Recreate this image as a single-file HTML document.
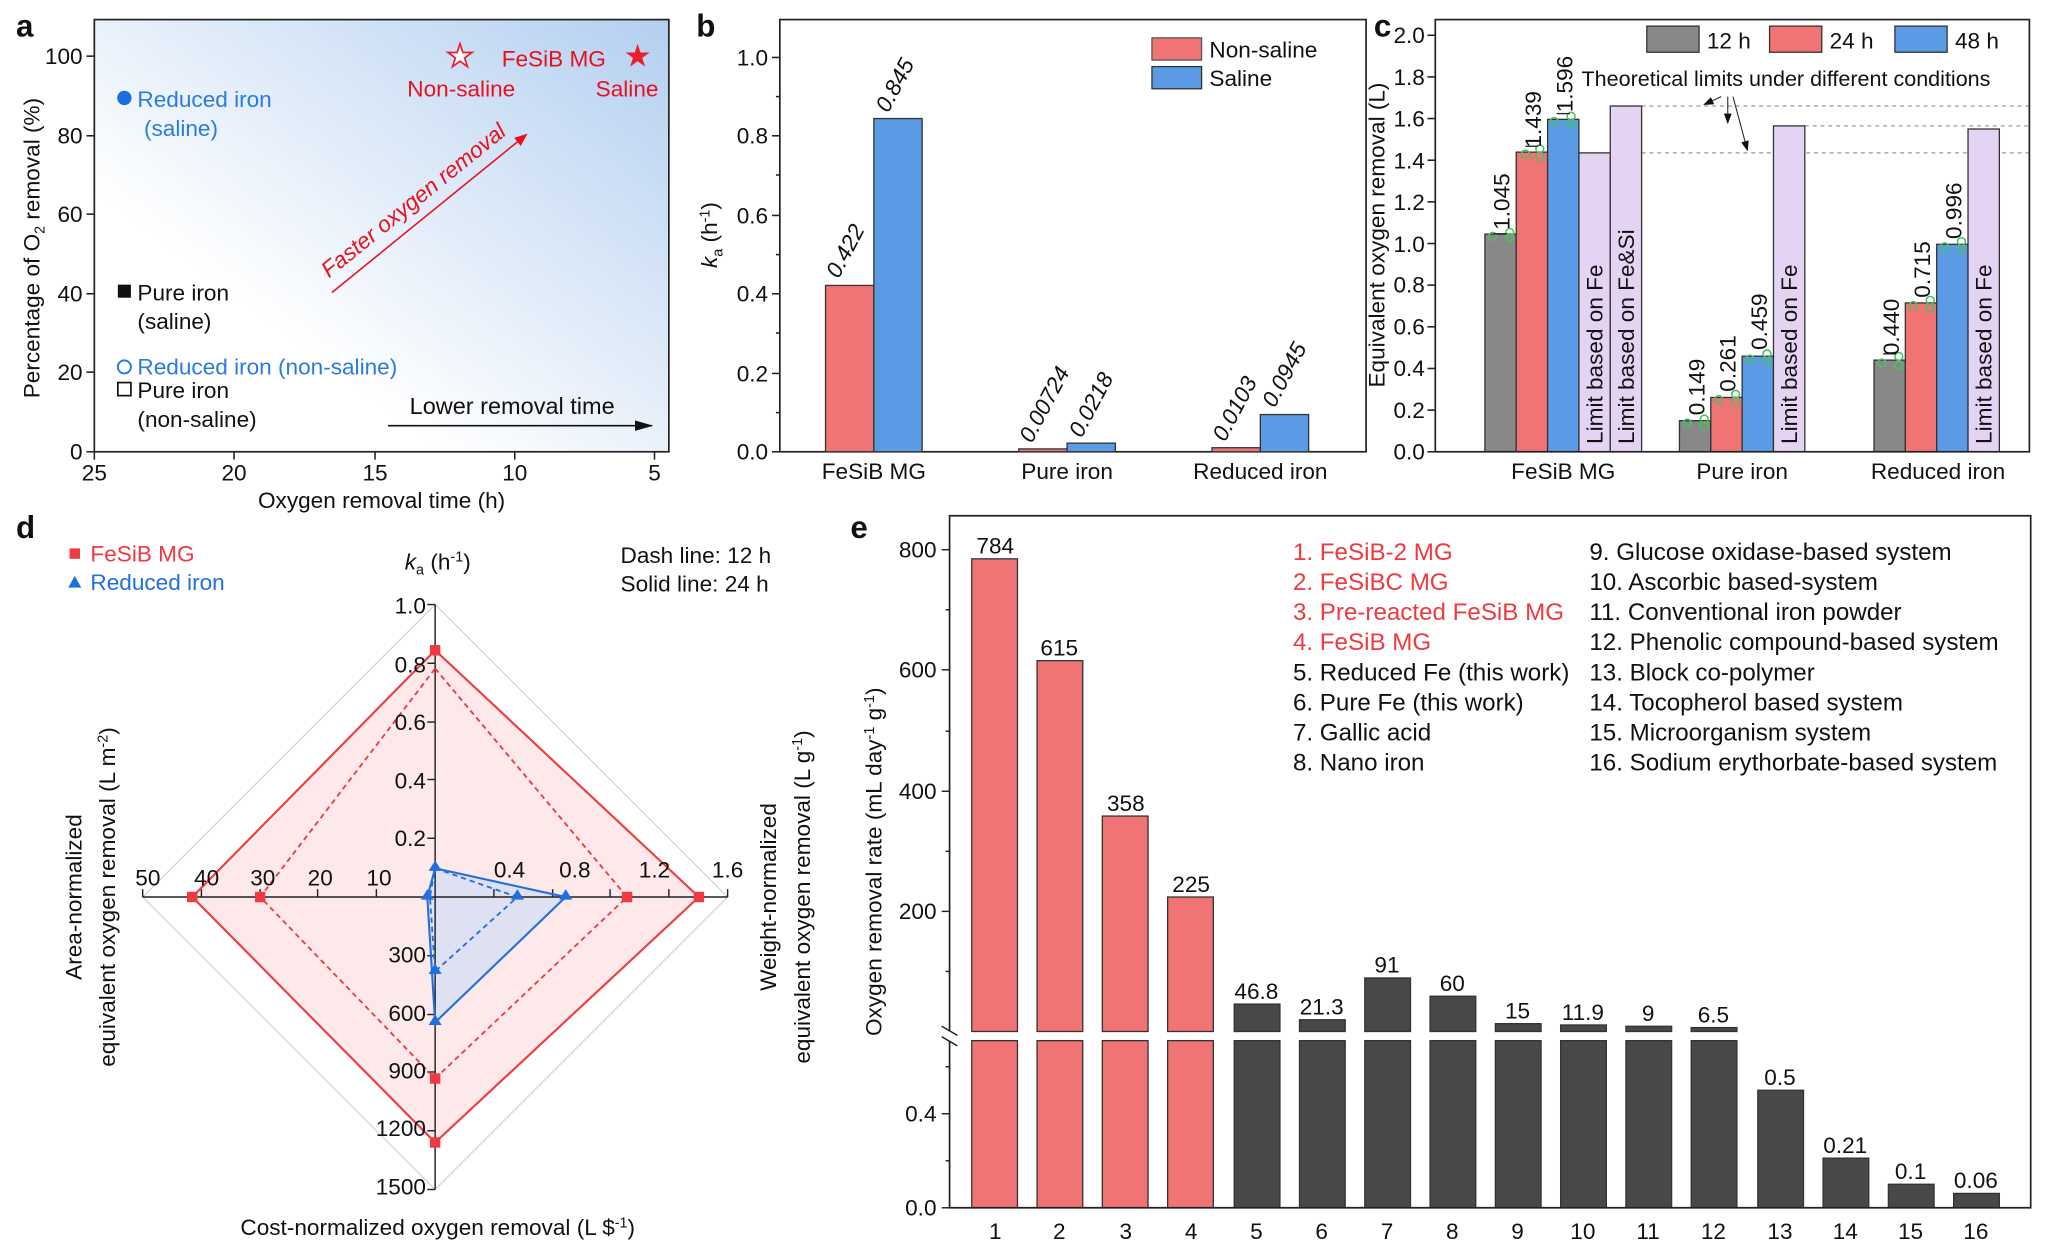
<!DOCTYPE html>
<html><head><meta charset="utf-8"><style>
html,body{margin:0;padding:0;background:#fff}
svg{display:block}
text{font-family:"Liberation Sans",Arial,sans-serif;font-size:17.3px;fill:#111}
.b{font-weight:bold;font-size:24px}
.lg{font-size:18.5px}
</style></head><body>
<svg width="2048" height="1260" viewBox="0 0 1568 965" xmlns="http://www.w3.org/2000/svg">
<defs>
<linearGradient id="ga" x1="0" y1="1" x2="1" y2="0">
<stop offset="0.3" stop-color="#ffffff"/><stop offset="1" stop-color="#b3cff0"/>
</linearGradient>
<marker id="ar" markerWidth="10" markerHeight="8" refX="9" refY="4" orient="auto" markerUnits="userSpaceOnUse"><path d="M0,0 L10,4 L0,8z" fill="#e8101e"/></marker>
<marker id="ak" markerWidth="14" markerHeight="8" refX="13" refY="4" orient="auto" markerUnits="userSpaceOnUse"><path d="M0,0 L14,4 L0,8z" fill="#111"/></marker>
<marker id="ak2" markerWidth="8" markerHeight="6" refX="7" refY="3" orient="auto" markerUnits="userSpaceOnUse"><path d="M0,0 L8,3 L0,6z" fill="#111"/></marker>
</defs>

<!-- ===== Panel a ===== -->
<text x="12" y="28" class="b">a</text>
<rect x="72" y="15" width="440" height="331" fill="url(#ga)" stroke="#222" stroke-width="1.3"/>
<g stroke="#222" stroke-width="1.2">
<line x1="72" y1="346" x2="72" y2="352"/><line x1="179" y1="346" x2="179" y2="352"/><line x1="287" y1="346" x2="287" y2="352"/><line x1="394" y1="346" x2="394" y2="352"/><line x1="501" y1="346" x2="501" y2="352"/>
<line x1="66" y1="346" x2="72" y2="346"/><line x1="66" y1="285" x2="72" y2="285"/><line x1="66" y1="225" x2="72" y2="225"/><line x1="66" y1="164" x2="72" y2="164"/><line x1="66" y1="104" x2="72" y2="104"/><line x1="66" y1="43" x2="72" y2="43"/>
</g>
<g text-anchor="middle"><text x="72" y="368">25</text><text x="179" y="368">20</text><text x="287" y="368">15</text><text x="394" y="368">10</text><text x="501" y="368">5</text>
<text x="292" y="389">Oxygen removal time (h)</text></g>
<g text-anchor="end"><text x="63" y="352">0</text><text x="63" y="291">20</text><text x="63" y="231">40</text><text x="63" y="170">60</text><text x="63" y="110">80</text><text x="63" y="49">100</text></g>
<text transform="translate(30,190) rotate(-90)" text-anchor="middle">Percentage of O<tspan font-size="11" dy="4">2</tspan><tspan dy="-4"> removal (%)</tspan></text>
<circle cx="95" cy="75" r="5.5" fill="#1a6fe0"/>
<text x="105" y="82" style="fill:#2a7be0">Reduced iron</text><text x="110" y="104" style="fill:#2a7be0">(saline)</text>
<rect x="90" y="218" width="10" height="10" fill="#111"/>
<text x="105" y="230">Pure iron</text><text x="105" y="252">(saline)</text>
<circle cx="95" cy="281" r="5" fill="none" stroke="#2a7be0" stroke-width="1.5"/>
<text x="105" y="287" style="fill:#2a7be0">Reduced iron (non-saline)</text>
<rect x="90" y="293" width="10" height="10" fill="none" stroke="#111" stroke-width="1.3"/>
<text x="105" y="305">Pure iron</text><text x="105" y="327">(non-saline)</text>
<text x="352" y="51" text-anchor="middle" style="fill:#fff;stroke:#e8202e;stroke-width:1.3;font-size:24px">★</text>
<text x="488" y="51" text-anchor="middle" style="fill:#e8202e;font-size:24px">★</text>
<text x="384" y="51" style="fill:#e8101e">FeSiB MG</text>
<text x="353" y="74" text-anchor="middle" style="fill:#e8101e">Non-saline</text>
<text x="480" y="74" text-anchor="middle" style="fill:#e8101e">Saline</text>
<line x1="254" y1="224" x2="403" y2="103" stroke="#e8101e" stroke-width="1.2" marker-end="url(#ar)"/>
<text transform="translate(320,158) rotate(-39)" text-anchor="middle" style="fill:#e8101e;font-style:italic">Faster oxygen removal</text>
<line x1="297" y1="326" x2="499" y2="326" stroke="#111" stroke-width="1.2" marker-end="url(#ak)"/>
<text x="392" y="317" text-anchor="middle" style="font-size:18px">Lower removal time</text>

<!-- ===== Panel b ===== -->
<text x="533" y="28" class="b">b</text>
<rect x="597" y="15" width="449" height="331" fill="none" stroke="#222" stroke-width="1.3"/>
<g stroke="#222" stroke-width="1.2">
<line x1="591" y1="346" x2="597" y2="346"/><line x1="591" y1="286" x2="597" y2="286"/><line x1="591" y1="225" x2="597" y2="225"/><line x1="591" y1="165" x2="597" y2="165"/><line x1="591" y1="104" x2="597" y2="104"/><line x1="591" y1="44" x2="597" y2="44"/>
<line x1="594" y1="316" x2="597" y2="316"/><line x1="594" y1="255" x2="597" y2="255"/><line x1="594" y1="195" x2="597" y2="195"/><line x1="594" y1="134" x2="597" y2="134"/><line x1="594" y1="74" x2="597" y2="74"/>
</g>
<g text-anchor="end"><text x="588" y="352">0.0</text><text x="588" y="292">0.2</text><text x="588" y="231">0.4</text><text x="588" y="171">0.6</text><text x="588" y="110">0.8</text><text x="588" y="50">1.0</text></g>
<text transform="translate(549,180) rotate(-90)" text-anchor="middle"><tspan font-style="italic">k</tspan><tspan font-size="11" dy="4">a</tspan><tspan dy="-4"> (h</tspan><tspan font-size="11" dy="-6">-1</tspan><tspan dy="6">)</tspan></text>
<g stroke="#333" stroke-width="1">
<rect x="632" y="218.6" width="37" height="127.4" fill="#f07474"/>
<rect x="669" y="90.8" width="37" height="255.2" fill="#5b9be6"/>
<rect x="780" y="343.8" width="37" height="2.2" fill="#f07474"/>
<rect x="817" y="339.4" width="37" height="6.6" fill="#5b9be6"/>
<rect x="928" y="342.9" width="37" height="3.1" fill="#f07474"/>
<rect x="965" y="317.5" width="37" height="28.5" fill="#5b9be6"/>
</g>
<g font-style="italic">
<text transform="translate(642,214) rotate(-62)">0.422</text>
<text transform="translate(680,87) rotate(-62)">0.845</text>
<text transform="translate(790,340) rotate(-62)">0.00724</text>
<text transform="translate(828,336) rotate(-62)">0.0218</text>
<text transform="translate(938,339) rotate(-62)">0.0103</text>
<text transform="translate(976,313) rotate(-62)">0.0945</text>
</g>
<g text-anchor="middle"><text x="669" y="367">FeSiB MG</text><text x="817" y="367">Pure iron</text><text x="965" y="367">Reduced iron</text></g>
<rect x="882" y="29" width="38" height="17" fill="#f07474" stroke="#555"/>
<rect x="882" y="51" width="38" height="17" fill="#5b9be6" stroke="#333"/>
<text x="926" y="44">Non-saline</text><text x="926" y="66">Saline</text>

<!-- ===== Panel c ===== -->
<text x="1052" y="28" class="b">c</text>
<g stroke="#999" stroke-width="1" stroke-dasharray="3,3">
<line x1="1257" y1="81.2" x2="1554" y2="81.2"/>
<line x1="1382" y1="96.4" x2="1554" y2="96.4"/>
<line x1="1233" y1="117.1" x2="1554" y2="117.1"/>
</g>
<g stroke="#333" stroke-width="1">
<rect x="1137" y="179.3" width="24" height="166.7" fill="#888"/>
<rect x="1161" y="116.5" width="24" height="229.5" fill="#f07474"/>
<rect x="1185" y="91.4" width="24" height="254.6" fill="#5b9be6"/>
<rect x="1209" y="117.1" width="24" height="228.9" fill="#e5d3f3"/>
<rect x="1233" y="81.2" width="24" height="264.8" fill="#e5d3f3"/>
<rect x="1286" y="322.2" width="24" height="23.8" fill="#888"/>
<rect x="1310" y="304.4" width="24" height="41.6" fill="#f07474"/>
<rect x="1334" y="272.8" width="24" height="73.2" fill="#5b9be6"/>
<rect x="1358" y="96.4" width="24" height="249.6" fill="#e5d3f3"/>
<rect x="1435" y="275.8" width="24" height="70.2" fill="#888"/>
<rect x="1459" y="232" width="24" height="114" fill="#f07474"/>
<rect x="1483" y="187.1" width="24" height="158.9" fill="#5b9be6"/>
<rect x="1507" y="98.8" width="24" height="247.2" fill="#e5d3f3"/>
</g>
<g fill="none" stroke="#4cc060" stroke-width="1.2">
<circle cx="1143" cy="181" r="3"/><circle cx="1156" cy="178" r="3"/><circle cx="1156" cy="182" r="3"/>
<circle cx="1168" cy="118" r="3"/><circle cx="1179" cy="114" r="3"/><circle cx="1179" cy="120" r="3"/>
<circle cx="1190" cy="93" r="3"/><circle cx="1203" cy="89" r="3"/><circle cx="1203" cy="95" r="3"/>
<circle cx="1292" cy="324" r="3"/><circle cx="1305" cy="321" r="3"/><circle cx="1305" cy="326" r="3"/>
<circle cx="1316" cy="306" r="3"/><circle cx="1329" cy="302" r="3"/><circle cx="1329" cy="307" r="3"/>
<circle cx="1340" cy="275" r="3"/><circle cx="1353" cy="271" r="3"/><circle cx="1353" cy="277" r="3"/>
<circle cx="1441" cy="278" r="3"/><circle cx="1454" cy="273" r="3"/><circle cx="1454" cy="280" r="3"/>
<circle cx="1465" cy="234" r="3"/><circle cx="1478" cy="230" r="3"/><circle cx="1478" cy="236" r="3"/>
<circle cx="1489" cy="189" r="3"/><circle cx="1502" cy="185" r="3"/><circle cx="1502" cy="191" r="3"/>
</g>
<g stroke="#222" stroke-width="1"><line x1="1144" y1="179" x2="1154" y2="179"/><line x1="1168" y1="112" x2="1178" y2="112"/><line x1="1192" y1="87" x2="1202" y2="87"/><line x1="1442" y1="271" x2="1452" y2="271"/></g>
<g>
<text transform="translate(1156,176) rotate(-90)">1.045</text>
<text transform="translate(1180,113) rotate(-90)">1.439</text>
<text transform="translate(1204,86) rotate(-90)">1.596</text>
<text transform="translate(1305,318) rotate(-90)">0.149</text>
<text transform="translate(1329,300) rotate(-90)">0.261</text>
<text transform="translate(1353,268) rotate(-90)">0.459</text>
<text transform="translate(1454,272) rotate(-90)">0.440</text>
<text transform="translate(1478,228) rotate(-90)">0.715</text>
<text transform="translate(1502,183) rotate(-90)">0.996</text>
<text transform="translate(1227,340) rotate(-90)">Limit based on Fe</text>
<text transform="translate(1251,340) rotate(-90)">Limit based on Fe&amp;Si</text>
<text transform="translate(1376,340) rotate(-90)">Limit based on Fe</text>
<text transform="translate(1525,340) rotate(-90)">Limit based on Fe</text>
</g>
<rect x="1099" y="15" width="455" height="331" fill="none" stroke="#222" stroke-width="1.3"/>
<g stroke="#222" stroke-width="1.2">
<line x1="1093" y1="346" x2="1099" y2="346"/><line x1="1093" y1="314.1" x2="1099" y2="314.1"/><line x1="1093" y1="282.2" x2="1099" y2="282.2"/><line x1="1093" y1="250.3" x2="1099" y2="250.3"/><line x1="1093" y1="218.4" x2="1099" y2="218.4"/><line x1="1093" y1="186.5" x2="1099" y2="186.5"/><line x1="1093" y1="154.6" x2="1099" y2="154.6"/><line x1="1093" y1="122.7" x2="1099" y2="122.7"/><line x1="1093" y1="90.8" x2="1099" y2="90.8"/><line x1="1093" y1="58.9" x2="1099" y2="58.9"/><line x1="1093" y1="27" x2="1099" y2="27"/>
</g>
<g text-anchor="end">
<text x="1091" y="352">0.0</text><text x="1091" y="320">0.2</text><text x="1091" y="288">0.4</text><text x="1091" y="256">0.6</text><text x="1091" y="224">0.8</text><text x="1091" y="193">1.0</text><text x="1091" y="161">1.2</text><text x="1091" y="129">1.4</text><text x="1091" y="97">1.6</text><text x="1091" y="65">1.8</text><text x="1091" y="33">2.0</text></g>
<text transform="translate(1060,180) rotate(-90)" text-anchor="middle">Equivalent oxygen removal (L)</text>
<g text-anchor="middle"><text x="1197" y="367">FeSiB MG</text><text x="1334" y="367">Pure iron</text><text x="1484" y="367">Reduced iron</text></g>
<rect x="1261" y="20" width="40" height="20" fill="#888" stroke="#333"/>
<rect x="1355" y="20" width="40" height="20" fill="#f07474" stroke="#333"/>
<rect x="1451" y="20" width="40" height="20" fill="#5b9be6" stroke="#333"/>
<text x="1307" y="37">12 h</text><text x="1401" y="37">24 h</text><text x="1497" y="37">48 h</text>
<text x="1211" y="66" style="font-size:16.5px">Theoretical limits under different conditions</text>
<g stroke="#222" stroke-width="0.8">
<line x1="1318" y1="74" x2="1305" y2="80" marker-end="url(#ak2)"/>
<line x1="1323" y1="74" x2="1323" y2="94" marker-end="url(#ak2)"/>
<line x1="1327" y1="74" x2="1338" y2="115" marker-end="url(#ak2)"/>
</g>

<!-- ===== Panel d ===== -->
<text x="12" y="412" class="b">d</text>
<g fill="none" stroke="#ccc" stroke-width="0.8">
<polygon points="333,642 378,687 333,732 288,687"/>
<polygon points="333,597 423,687 333,777 243,687"/>
<polygon points="333,553 467,687 333,821 199,687"/>
<polygon points="333,508 512,687 333,866 154,687"/>
<polygon points="333,463 557,687 333,911 109,687"/>
</g>
<polygon points="333,498 535,687 333,875 147,687" fill="#fde9ea" stroke="none"/>
<polygon points="333,665 433,687 333,783 327,687" fill="#dfe0f2" stroke="none"/>
<g stroke="#222" stroke-width="1.1">
<line x1="333" y1="463" x2="333" y2="911"/><line x1="109" y1="687" x2="557" y2="687"/>
<line x1="327" y1="463" x2="333" y2="463"/><line x1="327" y1="508" x2="333" y2="508"/><line x1="327" y1="553" x2="333" y2="553"/><line x1="327" y1="597" x2="333" y2="597"/><line x1="327" y1="642" x2="333" y2="642"/>
<line x1="327" y1="732" x2="333" y2="732"/><line x1="327" y1="777" x2="333" y2="777"/><line x1="327" y1="821" x2="333" y2="821"/><line x1="327" y1="866" x2="333" y2="866"/><line x1="327" y1="911" x2="333" y2="911"/>
<line x1="109" y1="681" x2="109" y2="687"/><line x1="154" y1="681" x2="154" y2="687"/><line x1="199" y1="681" x2="199" y2="687"/><line x1="243" y1="681" x2="243" y2="687"/><line x1="288" y1="681" x2="288" y2="687"/>
<line x1="378" y1="681" x2="378" y2="687"/><line x1="423" y1="681" x2="423" y2="687"/><line x1="467" y1="681" x2="467" y2="687"/><line x1="512" y1="681" x2="512" y2="687"/><line x1="557" y1="681" x2="557" y2="687"/>
</g>
<polygon points="333,498 535,687 333,875 147,687" fill="none" stroke="#ee3a40" stroke-width="1.6"/>
<polygon points="333,512 480,687 333,826 199,687" fill="none" stroke="#ee3a40" stroke-width="1.4" stroke-dasharray="4,3"/>
<polygon points="333,665 433,687 333,783 327,687" fill="none" stroke="#1f6fdc" stroke-width="1.6"/>
<polygon points="333,665 396,687 333,744 329,687" fill="none" stroke="#1f6fdc" stroke-width="1.4" stroke-dasharray="4,3"/>
<g fill="#ee3a40">
<rect x="329" y="494" width="8" height="8"/><rect x="531" y="683" width="8" height="8"/><rect x="329" y="871" width="8" height="8"/><rect x="143" y="683" width="8" height="8"/>
<rect x="329" y="822" width="8" height="8"/><rect x="476" y="683" width="8" height="8"/><rect x="195" y="683" width="8" height="8"/>
</g>
<g fill="#1f6fdc">
<path d="M333,659 l5,8 h-10z"/><path d="M433,681 l5,8 h-10z"/><path d="M333,777 l5,8 h-10z"/><path d="M327,681 l5,8 h-10z"/>
<path d="M396,681 l5,8 h-10z"/><path d="M333,738 l5,8 h-10z"/>
</g>
<g text-anchor="end">
<text x="326" y="470">1.0</text><text x="326" y="515">0.8</text><text x="326" y="559">0.6</text><text x="326" y="604">0.4</text><text x="326" y="648">0.2</text>
<text x="326" y="737">300</text><text x="326" y="782">600</text><text x="326" y="826">900</text><text x="326" y="870">1200</text><text x="326" y="915">1500</text>
</g>
<g text-anchor="middle">
<text x="113" y="678">50</text><text x="158" y="678">40</text><text x="201" y="678">30</text><text x="245" y="678">20</text><text x="290" y="678">10</text>
<text x="390" y="672">0.4</text><text x="440" y="672">0.8</text><text x="501" y="672">1.2</text><text x="557" y="672">1.6</text>
<text x="335" y="436"><tspan font-style="italic">k</tspan><tspan font-size="11" dy="4">a</tspan><tspan dy="-4"> (h</tspan><tspan font-size="11" dy="-6">-1</tspan><tspan dy="6">)</tspan></text>
<text x="335" y="946">Cost-normalized oxygen removal (L $<tspan font-size="11" dy="-6">-1</tspan><tspan dy="6">)</tspan></text>
</g>
<rect x="53" y="420" width="8" height="8" fill="#ee3a40"/>
<text x="69" y="430" style="fill:#ee3a40">FeSiB MG</text>
<path d="M57,441 l5,9 h-10z" fill="#1f6fdc"/>
<text x="69" y="452" style="fill:#1f6fdc">Reduced iron</text>
<text x="475" y="431">Dash line: 12 h</text><text x="475" y="453">Solid line: 24 h</text>
<text transform="translate(62,687) rotate(-90)" text-anchor="middle">Area-normalized</text>
<text transform="translate(88,687) rotate(-90)" text-anchor="middle">equivalent oxygen removal (L m<tspan font-size="11" dy="-6">-2</tspan><tspan dy="6">)</tspan></text>
<text transform="translate(594,687) rotate(-90)" text-anchor="middle">Weight-normalized</text>
<text transform="translate(620,687) rotate(-90)" text-anchor="middle">equivalent oxygen removal (L g<tspan font-size="11" dy="-6">-1</tspan><tspan dy="6">)</tspan></text>

<!-- ===== Panel e ===== -->
<text x="651" y="412" class="b">e</text>
<g stroke="#333" stroke-width="1">
<rect x="744" y="428" width="35" height="362" fill="#f07474"/>
<rect x="794" y="506" width="35" height="284" fill="#f07474"/>
<rect x="844" y="625" width="35" height="165" fill="#f07474"/>
<rect x="894" y="687" width="35" height="103" fill="#f07474"/>
<rect x="945" y="769" width="35" height="21" fill="#484848"/>
<rect x="995" y="781" width="35" height="9" fill="#484848"/>
<rect x="1045" y="749" width="35" height="41" fill="#484848"/>
<rect x="1095" y="763" width="35" height="27" fill="#484848"/>
<rect x="1145" y="784" width="35" height="6" fill="#484848"/>
<rect x="1195" y="785" width="35" height="5" fill="#484848"/>
<rect x="1245" y="786" width="35" height="4" fill="#484848"/>
<rect x="1295" y="787" width="35" height="3" fill="#484848"/>
<rect x="744" y="797" width="35" height="128" fill="#f07474"/>
<rect x="794" y="797" width="35" height="128" fill="#f07474"/>
<rect x="844" y="797" width="35" height="128" fill="#f07474"/>
<rect x="894" y="797" width="35" height="128" fill="#f07474"/>
<rect x="945" y="797" width="35" height="128" fill="#484848"/>
<rect x="995" y="797" width="35" height="128" fill="#484848"/>
<rect x="1045" y="797" width="35" height="128" fill="#484848"/>
<rect x="1095" y="797" width="35" height="128" fill="#484848"/>
<rect x="1145" y="797" width="35" height="128" fill="#484848"/>
<rect x="1195" y="797" width="35" height="128" fill="#484848"/>
<rect x="1245" y="797" width="35" height="128" fill="#484848"/>
<rect x="1295" y="797" width="35" height="128" fill="#484848"/>
<rect x="1346" y="835" width="35" height="90" fill="#484848"/>
<rect x="1396" y="887" width="35" height="38" fill="#484848"/>
<rect x="1446" y="907" width="35" height="18" fill="#484848"/>
<rect x="1496" y="914" width="35" height="11" fill="#484848"/>
</g>
<rect x="740" y="791" width="600" height="5" fill="#fff"/>
<g fill="none" stroke="#222" stroke-width="1.3">
<path d="M727,790 V395 H1555 V925 H727 V797"/>
</g>
<g stroke="#222" stroke-width="1.1">
<line x1="721" y1="786" x2="733" y2="793"/><line x1="721" y1="794" x2="733" y2="801"/>
<line x1="721" y1="421" x2="727" y2="421"/><line x1="721" y1="513" x2="727" y2="513"/><line x1="721" y1="606" x2="727" y2="606"/><line x1="721" y1="698" x2="727" y2="698"/>
<line x1="724" y1="467" x2="727" y2="467"/><line x1="724" y1="560" x2="727" y2="560"/><line x1="724" y1="652" x2="727" y2="652"/><line x1="724" y1="744" x2="727" y2="744"/>
<line x1="721" y1="853" x2="727" y2="853"/><line x1="721" y1="925" x2="727" y2="925"/><line x1="724" y1="817" x2="727" y2="817"/><line x1="724" y1="889" x2="727" y2="889"/>
</g>
<g text-anchor="end"><text x="717" y="427">800</text><text x="717" y="519">600</text><text x="717" y="612">400</text><text x="717" y="704">200</text><text x="717" y="859">0.4</text><text x="717" y="931">0.0</text></g>
<text transform="translate(675,660) rotate(-90)" text-anchor="middle">Oxygen removal rate (mL day<tspan font-size="11" dy="-6">-1</tspan><tspan dy="6"> g</tspan><tspan font-size="11" dy="-6">-1</tspan><tspan dy="6">)</tspan></text>
<g text-anchor="middle">
<text x="762" y="424">784</text><text x="811" y="502">615</text><text x="862" y="621">358</text><text x="912" y="683">225</text>
<text x="962" y="765">46.8</text><text x="1012" y="777">21.3</text><text x="1062" y="745">91</text><text x="1112" y="759">60</text>
<text x="1162" y="780">15</text><text x="1212" y="781">11.9</text><text x="1262" y="782">9</text><text x="1312" y="783">6.5</text>
<text x="1363" y="831">0.5</text><text x="1413" y="883">0.21</text><text x="1463" y="903">0.1</text><text x="1513" y="910">0.06</text>
<text x="762" y="949">1</text><text x="811" y="949">2</text><text x="862" y="949">3</text><text x="912" y="949">4</text><text x="962" y="949">5</text><text x="1012" y="949">6</text><text x="1062" y="949">7</text><text x="1112" y="949">8</text><text x="1162" y="949">9</text><text x="1212" y="949">10</text><text x="1262" y="949">11</text><text x="1312" y="949">12</text><text x="1363" y="949">13</text><text x="1413" y="949">14</text><text x="1463" y="949">15</text><text x="1513" y="949">16</text>
</g>
<text x="990" y="429" class="lg" style="fill:#ee3a40">1. FeSiB-2 MG</text>
<text x="990" y="452" class="lg" style="fill:#ee3a40">2. FeSiBC MG</text>
<text x="990" y="475" class="lg" style="fill:#ee3a40">3. Pre-reacted FeSiB MG</text>
<text x="990" y="498" class="lg" style="fill:#ee3a40">4. FeSiB MG</text>
<text x="990" y="521" class="lg">5. Reduced Fe (this work)</text>
<text x="990" y="544" class="lg">6. Pure Fe (this work)</text>
<text x="990" y="567" class="lg">7. Gallic acid</text>
<text x="990" y="590" class="lg">8. Nano iron</text>
<text x="1217" y="429" class="lg">9. Glucose oxidase-based system</text>
<text x="1217" y="452" class="lg">10. Ascorbic based-system</text>
<text x="1217" y="475" class="lg">11. Conventional iron powder</text>
<text x="1217" y="498" class="lg">12. Phenolic compound-based system</text>
<text x="1217" y="521" class="lg">13. Block co-polymer</text>
<text x="1217" y="544" class="lg">14. Tocopherol based system</text>
<text x="1217" y="567" class="lg">15. Microorganism system</text>
<text x="1217" y="590" class="lg">16. Sodium erythorbate-based system</text>
</svg>
</body></html>
